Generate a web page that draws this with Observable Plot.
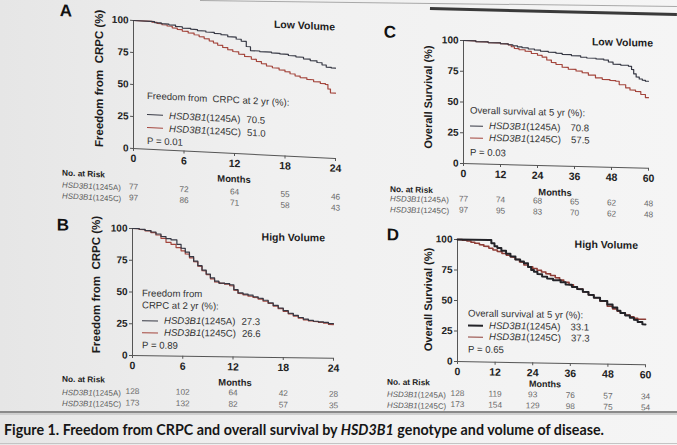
<!DOCTYPE html>
<html>
<head>
<meta charset="utf-8">
<script src="https://cdn.jsdelivr.net/npm/d3@7"></script>
<script src="https://cdn.jsdelivr.net/npm/@observablehq/plot@0.6"></script>
<style>
  html, body { margin: 0; padding: 0; }
  body {
    width: 677px; height: 445px; overflow: hidden; position: relative;
    background: linear-gradient(90deg, #e6e6e6 0%, #f0f0f0 40%, #f5f5f5 100%);
    font-family: "Liberation Sans", Arial, sans-serif; color: #222;
  }
  .panel { position: absolute; left: 0; top: 0; width: 677px; height: 445px; }
  .panel svg { position: absolute; overflow: visible; }
  .abs { position: absolute; white-space: nowrap; line-height: 1; }
  .sw { display: inline-block; vertical-align: middle; margin-right: 6px; height: 0; }
  #cap { position: absolute; left: 4px; top: 430px; transform-origin: 0 50%;
         font-family: Lato, "Open Sans", sans-serif; font-weight: bold; font-size: 15.5px;
         line-height: 1; color: #161616; white-space: nowrap; }
  .edge { position: absolute; transform-origin: 0 0; }
</style>
</head>
<body>
<script>
// ---------- data ----------
const months24 = [0, 6, 12, 18, 24];
const months60 = [0, 12, 24, 36, 48, 60];
const genotypes = ["1245A", "1245C"];
const panelLetters = ["A", "B", "C", "D"];
const volumeGroups = ["Low Volume", "High Volume", "Low Volume", "High Volume"];
const pValues = [0.01, 0.89, 0.03, 0.65];

// Freedom from CRPC, low volume (month, %)
const crpcLow1245A = [[0,100],[2,100],[2.5,99.2],[3.3,98.6],[4.2,98],[5,97],[5.8,96],[6.8,95.4],[7.6,94.6],[8.6,93.8],[9.6,93],[10.4,92.3],[11.2,91],[12.2,89.5],[12.8,88],[13.4,84],[13.9,81],[15,80.6],[16.4,80],[17.4,79.5],[18.4,78.6],[19.3,77.8],[20.2,76.6],[21,75.5],[21.8,74.2],[22.4,72.6],[22.9,71],[23.5,70.5],[24,70.5]];
const crpcLow1245C = [[0,100],[2.2,99.4],[2.8,98.6],[3.4,97.8],[4,97],[4.6,95.8],[5.2,94.8],[5.8,93.6],[6.5,92.4],[7.2,91.2],[7.8,90],[8.4,88.6],[9,87],[9.5,85.6],[10,84],[10.6,82.4],[11.2,80.8],[11.8,79.6],[12.5,77.8],[13.2,76.2],[14,74.4],[14.6,72.8],[15.2,71.2],[15.8,69.6],[16.5,68.4],[17.3,67],[18,65.8],[18.6,64.4],[19.2,63],[19.8,61.8],[20.6,60.6],[21.4,59.2],[22.2,58],[22.8,57.4],[23.1,54],[23.4,51],[24,51]];

// Freedom from CRPC, high volume
const crpcHigh1245A = [[0,100],[0.8,99.5],[1.5,98.6],[2.2,97.5],[2.8,96],[3.4,94],[4,92.4],[4.6,91.5],[5.3,88],[5.8,85],[6.3,82],[6.8,78.5],[7.3,75],[7.8,71.5],[8.3,68],[8.8,65],[9.3,62],[9.8,59.5],[10.3,58],[11,57.6],[11.6,56.8],[12.1,53],[12.6,50.5],[13.2,49.6],[13.8,48.8],[14.4,47.6],[15,46.5],[15.6,45],[16.2,43],[16.8,41],[17.4,39],[18,37],[18.6,35],[19.2,33.4],[19.8,31.8],[20.4,30.6],[21,29.6],[21.6,29],[22.2,28.6],[22.8,28.2],[23.4,27.3],[24,27.3]];
const crpcHigh1245C = [[0,100],[0.8,99.3],[1.5,98.3],[2.2,97],[2.8,95.2],[3.4,92.6],[4,89.5],[4.6,88],[5.2,85.5],[5.8,83],[6.3,80.5],[6.8,77.5],[7.3,74.5],[7.8,71],[8.3,67.5],[8.8,64.5],[9.3,61.2],[9.8,58.8],[10.4,57.8],[11,57.2],[11.6,56],[12.1,52.5],[12.6,50],[13.2,49],[13.8,48],[14.4,47],[15,45.8],[15.6,44.2],[16.2,42.5],[16.8,40.5],[17.4,38.5],[18,36.4],[18.6,34.5],[19.2,32.8],[19.8,31.2],[20.4,30],[21,29.2],[21.6,28.8],[22.2,28.2],[22.8,27.6],[23.4,26.6],[24,26.6]];

// Overall survival, low volume
const osLow1245A = [[0,100],[4,99.4],[8,98.8],[12,98.2],[14.5,97.6],[16,96.8],[17.5,96],[19,95.4],[21,94.6],[23,93.8],[25,93],[27.5,92.4],[30,91.6],[32,90.9],[35,90],[38,89],[40,88.4],[43,87.8],[45.5,87.2],[47,85.6],[48.5,84],[51,83.4],[53.5,82.6],[54.5,80],[55.2,76.5],[56,74],[57,72.5],[58,71.5],[59,70.8],[60,70.8]];
const osLow1245C = [[0,100],[4,99.4],[8,98.8],[12,98.2],[14.5,97.4],[15.5,96],[16.5,94.6],[18,93.8],[20,92.6],[22,91],[24,89.6],[25.5,88.2],[27,86],[28.5,84],[30,82.6],[32,80.4],[34,78.9],[36.5,77.6],[38.5,76.3],[40.5,74.6],[42.8,72.5],[45,71.4],[47.5,70.6],[49.4,70.2],[50.5,67.5],[52.6,65],[54,63.4],[55.8,62.2],[57.5,60],[59,57.5],[60,57.5]];

// Overall survival, high volume
const osHigh1245A = [[0,100],[10,100],[10.8,97.5],[11.8,95],[12.7,93.7],[14,91.5],[15.5,89],[16.9,87],[18.5,84.5],[20,83],[21.2,81.5],[22.5,78.5],[23.5,76],[24.4,74.7],[25.5,72.8],[27,70.8],[28.6,69.3],[30.5,68],[32.9,66.5],[34.5,64.6],[36.5,62.8],[38.2,61.1],[40,58.9],[41.8,56.5],[43.5,54.3],[45.5,51.8],[47.8,48.9],[49.5,46.5],[51,44],[52,42.1],[53.5,40.2],[55,38.4],[56.3,36.7],[57.5,35],[59,33.1],[60,33.1]];
const osHigh1245C = [[0,100],[1.5,99.6],[3,99],[4.3,98],[5.5,97.2],[7,96],[8.4,94.8],[10,93.4],[11.3,92],[12.7,90.7],[14.2,89.2],[15.6,87.8],[16.9,86.4],[18.4,84.5],[19.8,82.4],[21.2,80.1],[22.6,78.8],[24,77.4],[25.4,76],[26.8,74.6],[28.2,73.2],[29.7,71.9],[31.2,70],[32.6,68.2],[33.9,66.5],[35.6,64.5],[37,62.8],[38.2,61.1],[40,58.8],[41.8,56.5],[43.5,54.3],[45.5,51.5],[47.8,47.5],[49.5,45.4],[51,43.5],[52,42.1],[53.5,40.5],[55,39.2],[56.3,38],[57.5,37.3],[60,37.3]];

// Numbers at risk
const riskCrpcLow1245A = [77, 72, 64, 55, 46];
const riskCrpcLow1245C = [97, 86, 71, 58, 43];
const riskCrpcHigh1245A = [128, 102, 64, 42, 28];
const riskCrpcHigh1245C = [173, 132, 82, 57, 35];
const riskOsLow1245A = [77, 74, 68, 65, 62, 48];
const riskOsLow1245C = [97, 95, 83, 70, 62, 48];
const riskOsHigh1245A = [128, 119, 93, 76, 57, 34];
const riskOsHigh1245C = [173, 154, 129, 98, 75, 54];

// ---------- drawing ----------
const font = "Liberation Sans, Arial, sans-serif";

function el(parent, html, css) {
  const d = document.createElement("div");
  d.className = "abs";
  d.innerHTML = html;
  Object.assign(d.style, css);
  parent.appendChild(d);
  return d;
}
const px = v => v + "px";
const geno = g => `<i>HSD3B1</i>(${g})`;

function drawPanel(p) {
  const g = document.createElement("div");
  g.className = "panel";
  g.style.transformOrigin = `${p.x0}px ${p.y0}px`;
  g.style.transform = `skewY(${p.skew}deg)`;
  document.body.appendChild(g);

  const left = p.x0 - 40, top = p.y100 - 10;
  const W = p.x1 - left + 15, H = p.y0 - top + 60;
  const risk = counts => p.months.map((t, i) => ({t, n: counts[i]}));
  const xy = {x: d => d[0], y: d => d[1], curve: "step-after"};

  const chart = Plot.plot({
    width: W, height: H,
    marginLeft: p.x0 - left, marginRight: W - (p.x1 - left),
    marginTop: p.y100 - top, marginBottom: H - (p.y0 - top),
    style: {background: "transparent", overflow: "visible", fontFamily: font, color: "#222"},
    x: {domain: [0, p.months[p.months.length - 1]]},
    y: {domain: [0, 100]},
    marks: [
      Plot.axisY({ticks: [0, 25, 50, 75, 100], tickSize: 3, tickPadding: 2, fontSize: 10, fontWeight: "bold", label: null, stroke: "#555"}),
      Plot.axisX({ticks: p.months, tickSize: 3, tickPadding: 3, fontSize: 10.5, fontWeight: "bold", label: null, stroke: "#555"}),
      Plot.ruleX([0], {stroke: "#555"}),
      Plot.ruleY([0], {stroke: "#555"}),
      Plot.line(p.seriesC, {...xy, stroke: p.colors[1], strokeWidth: p.widths[1]}),
      Plot.line(p.seriesA, {...xy, stroke: p.colors[0], strokeWidth: p.widths[0]}),
      Plot.text(risk(p.riskA), {x: "t", text: "n", frameAnchor: "bottom", dy: p.rowDy[0], fontSize: 8.3, fill: "#6a6a6a"}),
      Plot.text(risk(p.riskC), {x: "t", text: "n", frameAnchor: "bottom", dy: p.rowDy[1], fontSize: 8.3, fill: "#6a6a6a"})
    ]
  });
  chart.style.left = px(left);
  chart.style.top = px(top);
  g.appendChild(chart);

  // panel letter, axis title, group name
  el(g, p.letter, {left: px(p.letterPos[0]), top: px(p.letterPos[1]), fontSize: "17px", fontWeight: "bold", transform: "translate(-50%,-50%)", color: "#111"});
  el(g, p.yTitle, {left: px(p.titlePos[0]), top: px(p.titlePos[1]), fontSize: px(p.titleSize), fontWeight: "bold", transform: "translate(-50%,-50%) rotate(-90deg)", color: "#1c1c1c"});
  el(g, p.group, {left: px(p.groupPos[0]), top: px(p.groupPos[1]), fontSize: "10.5px", fontWeight: "bold", transform: "translate(-100%,-50%)", color: "#1c1c1c"});
  el(g, "Months", {left: px(p.monthsPos[0]), top: px(p.y0 + p.monthsPos[1]), fontSize: px(p.monthsSize), fontWeight: "bold", transform: "translate(-50%,-50%)"});

  // legend
  const lf = {fontSize: "9.6px", color: "#333", transform: "translateY(-50%)", left: px(p.legendX)};
  p.legendHead.forEach((t, i) => el(g, t, {...lf, top: px(p.legendY[i])}));
  const n = p.legendHead.length;
  [p.seriesA, p.seriesC].forEach((s, i) => {
    const v = s[s.length - 1][1].toFixed(1);
    el(g, `<span class="sw" style="width:${p.swatch}px;border-top:${p.widths[i] + 0.2}px solid ${p.colors[i]}"></span>${geno(genotypes[i])}<span style="margin-left:${p.valueGap}px">${v}</span>`,
       {...lf, top: px(p.legendY[n + i])});
  });
  el(g, `P = ${p.p.toFixed(2)}`, {...lf, top: px(p.legendY[n + 2])});

  // numbers at risk
  el(g, "No. at Risk", {left: px(p.riskX), top: px(p.y0 + p.noRiskDy), fontSize: "8.3px", fontWeight: "bold", transform: "translateY(-50%)"});
  genotypes.forEach((gt, i) =>
    el(g, geno(gt), {left: px(p.riskX), top: px(p.y0 + p.rowDy[i]), fontSize: "7.9px", color: "#5a5a5a", transform: "translateY(-50%)"}));
}

const dark = ["#363844", "#a4463d"];
const darkD = ["#232328", "#8e3d36"];

drawPanel({
  letter: panelLetters[0], group: volumeGroups[0], p: pValues[0],
  yTitle: "Freedom from&nbsp; CRPC (%)", titleSize: 11.5,
  months: months24, seriesA: crpcLow1245A, seriesC: crpcLow1245C, riskA: riskCrpcLow1245A, riskC: riskCrpcLow1245C,
  x0: 133, x1: 335, y100: 20, y0: 148, skew: 2.8,
  colors: dark, widths: [1.2, 1.2],
  letterPos: [66, 14], titlePos: [100, 80], groupPos: [335, 17],
  legendX: 147, legendHead: ["Freedom from&nbsp; CRPC at 2 yr (%):"], legendY: [95, 113.5, 126.5, 140], swatch: 16, valueGap: 6,
  monthsPos: [234, 26], monthsSize: 9.4, riskX: 62, noRiskDy: 27.5, rowDy: [41, 52]
});

drawPanel({
  letter: panelLetters[1], group: volumeGroups[1], p: pValues[1],
  yTitle: "Freedom from&nbsp; CRPC (%)", titleSize: 11.5,
  months: months24, seriesA: crpcHigh1245A, seriesC: crpcHigh1245C, riskA: riskCrpcHigh1245A, riskC: riskCrpcHigh1245C,
  x0: 132, x1: 333, y100: 228, y0: 355, skew: 0.8,
  colors: dark, widths: [1.2, 1.2],
  letterPos: [63, 226], titlePos: [97, 285], groupPos: [325, 235],
  legendX: 142, legendHead: ["Freedom from", "CRPC at 2 yr (%):"], legendY: [293, 305, 320, 332, 345], swatch: 16, valueGap: 6,
  monthsPos: [235, 25.5], monthsSize: 9.4, riskX: 62, noRiskDy: 25, rowDy: [38.5, 50]
});

drawPanel({
  letter: panelLetters[2], group: volumeGroups[2], p: pValues[2],
  yTitle: "Overall Survival (%)", titleSize: 11,
  months: months60, seriesA: osLow1245A, seriesC: osLow1245C, riskA: riskOsLow1245A, riskC: riskOsLow1245C,
  x0: 463, x1: 648, y100: 40, y0: 163, skew: 1.5,
  colors: dark, widths: [1.2, 1.2],
  letterPos: [390, 34], titlePos: [428, 98], groupPos: [653, 38],
  legendX: 470, legendHead: ["Overall survival at 5 yr (%):"], legendY: [110, 125, 137, 152], swatch: 13, valueGap: 10,
  monthsPos: [555, 26.5], monthsSize: 9.4, riskX: 390, noRiskDy: 28, rowDy: [38, 49]
});

drawPanel({
  letter: panelLetters[3], group: volumeGroups[3], p: pValues[3],
  yTitle: "Overall Survival (%)", titleSize: 11,
  months: months60, seriesA: osHigh1245A, seriesC: osHigh1245C, riskA: riskOsHigh1245A, riskC: riskOsHigh1245C,
  x0: 457, x1: 645, y100: 239, y0: 361, skew: 1.0,
  colors: darkD, widths: [2, 1.6],
  letterPos: [393, 236], titlePos: [428, 300], groupPos: [638, 242],
  legendX: 468, legendHead: ["Overall survival at 5 yr (%):"], legendY: [313, 325, 336, 349], swatch: 15, valueGap: 10,
  monthsPos: [545, 21.5], monthsSize: 9, riskX: 387, noRiskDy: 22, rowDy: [34.5, 45.5]
});

// page edges and rules of the printed figure
function edge(x1, y1, x2, y2, w, color) {
  const d = document.createElement("div");
  d.className = "edge";
  const len = Math.hypot(x2 - x1, y2 - y1), ang = Math.atan2(y2 - y1, x2 - x1) * 180 / Math.PI;
  Object.assign(d.style, {left: px(x1), top: px(y1), width: px(len), height: px(w), background: color, transform: `rotate(${ang}deg)`});
  document.body.appendChild(d);
}
edge(200, 0, 677, 6, 1, "#a8a8a8");
edge(430, 7, 677, 13, 2.5, "#3a3a3a");
edge(0, 411, 677, 411, 2, "#8a8a8a");
edge(0, 413, 677, 413, 2, "#cfcfcf");
edge(0, 443, 677, 443, 1, "#c4c4c4");

// caption, condensed to the printed line length
const cap = document.createElement("div");
cap.id = "cap";
cap.innerHTML = "Figure 1. Freedom from CRPC and overall survival by <i>HSD3B1</i> genotype and volume of disease.";
document.body.appendChild(cap);
const w = cap.getBoundingClientRect().width;
cap.style.transform = `translateY(-50%) scaleX(${600 / w})`;
</script>
</body>
</html>
